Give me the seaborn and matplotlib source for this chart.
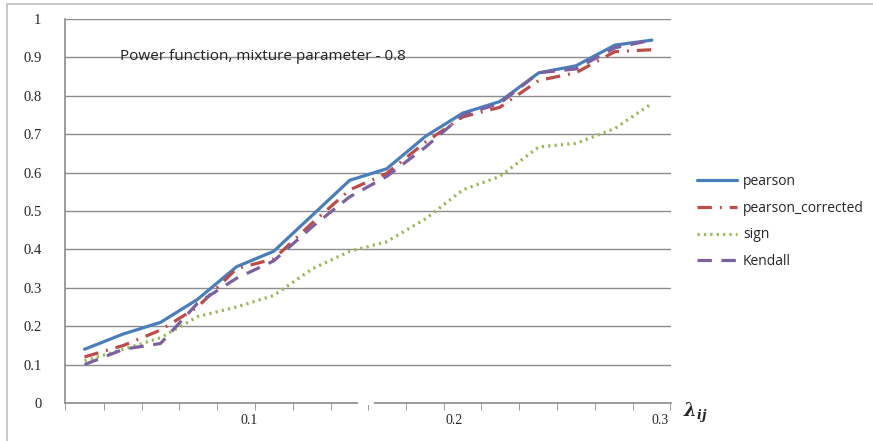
import numpy as np
import pandas as pd
import seaborn as sns
import matplotlib.pyplot as plt
from matplotlib.patches import Rectangle

# lambda_ij values (16 points)
lam = [0.020, 0.039, 0.057, 0.075, 0.094, 0.112, 0.131, 0.149,
       0.167, 0.186, 0.204, 0.222, 0.241, 0.259, 0.278, 0.296]

pearson = [0.14, 0.18, 0.21, 0.27, 0.355, 0.395, 0.49, 0.58,
           0.61, 0.695, 0.755, 0.785, 0.86, 0.878, 0.932, 0.945]
pearson_corrected = [0.12, 0.15, 0.19, 0.25, 0.35, 0.375, 0.47, 0.555,
                     0.598, 0.68, 0.745, 0.77, 0.84, 0.86, 0.915, 0.92]
sign = [0.11, 0.14, 0.17, 0.225, 0.25, 0.28, 0.35, 0.395,
        0.42, 0.48, 0.555, 0.59, 0.667, 0.676, 0.715, 0.78]
kendall = [0.10, 0.14, 0.155, 0.26, 0.325, 0.37, 0.46, 0.537,
           0.59, 0.667, 0.75, 0.78, 0.86, 0.87, 0.925, 0.945]

x_labels = [0.1, 0.2, 0.3]
title_text = 'Power function, mixture parameter - 0.8'

df = pd.DataFrame({
    'lam': lam * 4,
    'power': pearson + pearson_corrected + sign + kendall,
    'method': ['pearson'] * 16 + ['pearson_corrected'] * 16 + ['sign'] * 16 + ['Kendall'] * 16,
})

styles = {
    'pearson': dict(color='#4A7EBB', ls='-'),
    'pearson_corrected': dict(color='#BE4B48', ls=(0, (4.5, 2.5, 0.6, 2.5))),
    'sign': dict(color='#98B954', ls=(0, (0.7, 1.3))),
    'Kendall': dict(color='#7D60A0', ls=(0, (4.5, 3))),
}

sns.set_style('white')
plt.rcParams['font.family'] = ['Open Sans', 'DejaVu Sans']
plt.rcParams['mathtext.fontset'] = 'dejavuserif'

fig = plt.figure(figsize=(8.73, 4.41), dpi=100)
ax = fig.add_axes([65 / 873, 38 / 441, 606 / 873, 384 / 441])

# outer chart frame
fig.patches.append(Rectangle((7 / 873, -0.05), 1.1, (441 - 4) / 441 + 0.05,
                             transform=fig.transFigure, fill=False,
                             edgecolor='#BFBFBF', lw=1.2, zorder=0))

for name in ['pearson', 'pearson_corrected', 'sign', 'Kendall']:
    sub = df[df['method'] == name]
    sns.lineplot(data=sub, x='lam', y='power', ax=ax, label=name,
                 color=styles[name]['color'], linestyle=styles[name]['ls'],
                 lw=2.3, solid_capstyle='round', dash_capstyle='butt')

ax.set_xlim(0.0112, 0.3053)
ax.set_ylim(0, 1)

# y axis
yt = np.round(np.arange(0, 1.01, 0.1), 1)
ax.set_yticks(yt)
ax.set_yticklabels(['0', '0.1', '0.2', '0.3', '0.4', '0.5', '0.6', '0.7', '0.8', '0.9', '1'],
                   family='Liberation Serif', fontsize=10.5)
ax.yaxis.grid(True, color='#8C8C8C', lw=1)
ax.tick_params(axis='y', length=7, color='#8C8C8C', pad=10)

# x axis: category-boundary tick marks plus value labels
lam_arr = np.array(lam)
bounds = np.concatenate([[lam_arr[0] - (lam_arr[1] - lam_arr[0]) / 2],
                         (lam_arr[1:] + lam_arr[:-1]) / 2,
                         [lam_arr[-1] + (lam_arr[-1] - lam_arr[-2]) / 2]])
ax.set_xticks(bounds, minor=True)
ax.set_xticks(x_labels)
ax.set_xticklabels([str(v) for v in x_labels], family='Liberation Serif', fontsize=10)
ax.tick_params(axis='x', which='major', length=0, pad=8)
ax.tick_params(axis='x', which='minor', length=5, color='#8C8C8C', bottom=True)

for s in ['top', 'right']:
    ax.spines[s].set_visible(False)
for s in ['left', 'bottom']:
    ax.spines[s].set_color('#8C8C8C')
    ax.spines[s].set_linewidth(1.2)

# small break in the x axis line, as in the original
fig.add_artist(plt.Line2D([360 / 873, 372 / 873], [38 / 441, 38 / 441],
                          color='white', lw=3, transform=fig.transFigure))

ax.set_xlabel('')
ax.set_ylabel('')

ax.text(0.091, 0.903, title_text, transform=ax.transAxes, fontsize=11,
        va='center', ha='left', color='#222222')

fig.text(683 / 873, (441 - 413) / 441, r'$\mathbfit{\lambda}_{\mathbfit{ij}}$', fontsize=13,
         va='center', ha='left')

leg = ax.legend(loc='center left', bbox_to_anchor=(697 / 873, (441 - 221.5) / 441),
                bbox_transform=fig.transFigure, frameon=False, fontsize=10,
                handlelength=2.9, handletextpad=0.4, labelspacing=0.85,
                borderpad=0, borderaxespad=0)

fig.savefig('out.png', dpi=100)
